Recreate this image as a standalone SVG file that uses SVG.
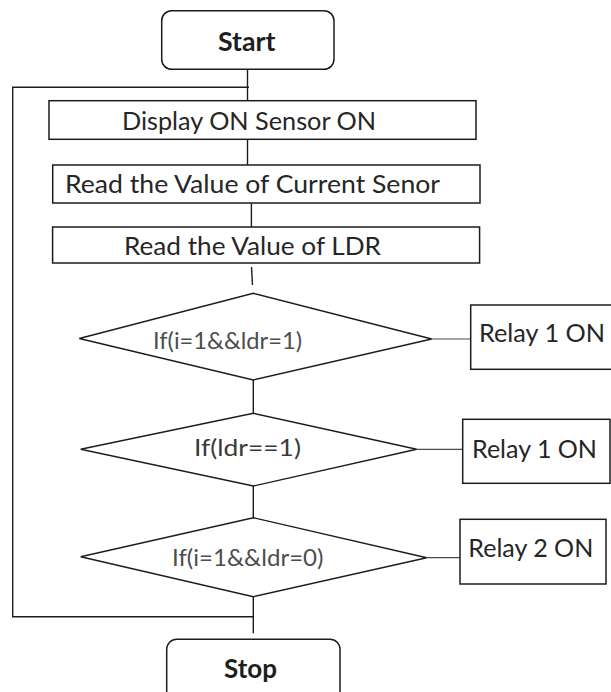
<svg xmlns="http://www.w3.org/2000/svg" width="611" height="692" viewBox="0 0 611 692">
  <style>
    .box { fill: #ffffff; stroke: #1c1c1c; stroke-width: 1.5; }
    .dia { fill: #ffffff; stroke: #1c1c1c; stroke-width: 1.4; }
    .ln { fill: none; stroke: #1c1c1c; stroke-width: 1.4; }
    .side { fill: none; stroke: #4a4a4a; stroke-width: 1.2; }
    .t { font-family: Lato, "Open Sans", "Liberation Sans", sans-serif; font-size: 25.5px; fill: #262626; }
    .tb { font-family: Lato, "Open Sans", "Liberation Sans", sans-serif; font-size: 26.5px; font-weight: bold; fill: #1e1e1e; }
    .tc { font-family: Lato, "Open Sans", "Liberation Sans", sans-serif; font-size: 22.5px; fill: #4d4d4d; }
  </style>

  <!-- connectors -->
  <g id="connectors">
    <line class="ln" x1="247.5" y1="70" x2="247.5" y2="100.7"/>
    <polyline class="ln" points="249,87.3 12.7,87.3 12.7,616.7 253.3,616.7"/>
    <line class="ln" x1="247.5" y1="139.3" x2="247.5" y2="165"/>
    <line class="ln" x1="251.4" y1="203" x2="251.4" y2="227"/>
    <line class="ln" x1="251.5" y1="267" x2="252.5" y2="285"/>
    <line class="ln" x1="253.3" y1="380" x2="253.3" y2="413.3"/>
    <line class="ln" x1="253.3" y1="486" x2="253.3" y2="517.7"/>
    <line class="ln" x1="253.3" y1="596.7" x2="253.3" y2="633.3"/>
    <line class="side" x1="431.7" y1="339" x2="470.7" y2="339"/>
    <line class="side" x1="416.7" y1="449.3" x2="462.7" y2="449.3"/>
    <line class="side" x1="426.7" y1="557.7" x2="460" y2="557.7"/>
  </g>

  <g id="start">
    <rect class="box" x="161.7" y="10.7" width="172.3" height="58.6" rx="10" ry="10"/>
    <text class="tb" x="218" y="50.7" textLength="57.5" lengthAdjust="spacingAndGlyphs">Start</text>
  </g>

  <g id="display">
    <rect class="box" x="49" y="100.7" width="427" height="38.6"/>
    <text class="t" x="122" y="130" textLength="254" lengthAdjust="spacingAndGlyphs">Display ON Sensor ON</text>
  </g>

  <g id="read-current">
    <rect class="box" x="52.7" y="165" width="427.3" height="38"/>
    <text class="t" x="65" y="193" textLength="375" lengthAdjust="spacingAndGlyphs">Read the Value of Current Senor</text>
  </g>

  <g id="read-ldr">
    <rect class="box" x="52.6" y="227" width="427" height="36"/>
    <text class="t" x="124" y="255" textLength="257" lengthAdjust="spacingAndGlyphs">Read the Value of LDR</text>
  </g>

  <g id="decision-1">
    <polygon class="dia" points="253.3,293.3 431.7,339 253.3,380 79.3,338.5"/>
    <text class="tc" x="153" y="349" textLength="149" lengthAdjust="spacingAndGlyphs">If(i=1&amp;&amp;ldr=1)</text>
  </g>

  <g id="relay-1a">
    <rect class="box" x="470.7" y="305" width="142" height="64.3"/>
    <text class="t" x="479" y="342.3" textLength="126" lengthAdjust="spacingAndGlyphs">Relay 1 ON</text>
  </g>

  <g id="decision-2">
    <polygon class="dia" points="253.3,413.3 416.7,449.3 253.3,486 80.7,449.3"/>
    <text class="tc" x="194" y="456" textLength="107" lengthAdjust="spacingAndGlyphs" style="fill:#3a3a3a;font-size:23.5px">If(ldr==1)</text>
  </g>

  <g id="relay-1b">
    <rect class="box" x="462.7" y="419.3" width="147.3" height="64"/>
    <text class="t" x="472" y="458.3" textLength="125" lengthAdjust="spacingAndGlyphs">Relay 1 ON</text>
  </g>

  <g id="decision-3">
    <polygon class="dia" points="253.3,517.7 426.7,557.7 253.3,596.7 80.7,556.7"/>
    <text class="tc" x="172" y="566" textLength="151.5" lengthAdjust="spacingAndGlyphs">If(i=1&amp;&amp;ldr=0)</text>
  </g>

  <g id="relay-2">
    <rect class="box" x="460" y="519.3" width="146" height="64.7"/>
    <text class="t" x="468.3" y="556.7" textLength="125" lengthAdjust="spacingAndGlyphs">Relay 2 ON</text>
  </g>

  <g id="stop">
    <rect class="box" x="166.7" y="639.3" width="173.3" height="70" rx="10" ry="10"/>
    <text class="tb" x="224" y="678.3" textLength="53" lengthAdjust="spacingAndGlyphs">Stop</text>
  </g>
</svg>
